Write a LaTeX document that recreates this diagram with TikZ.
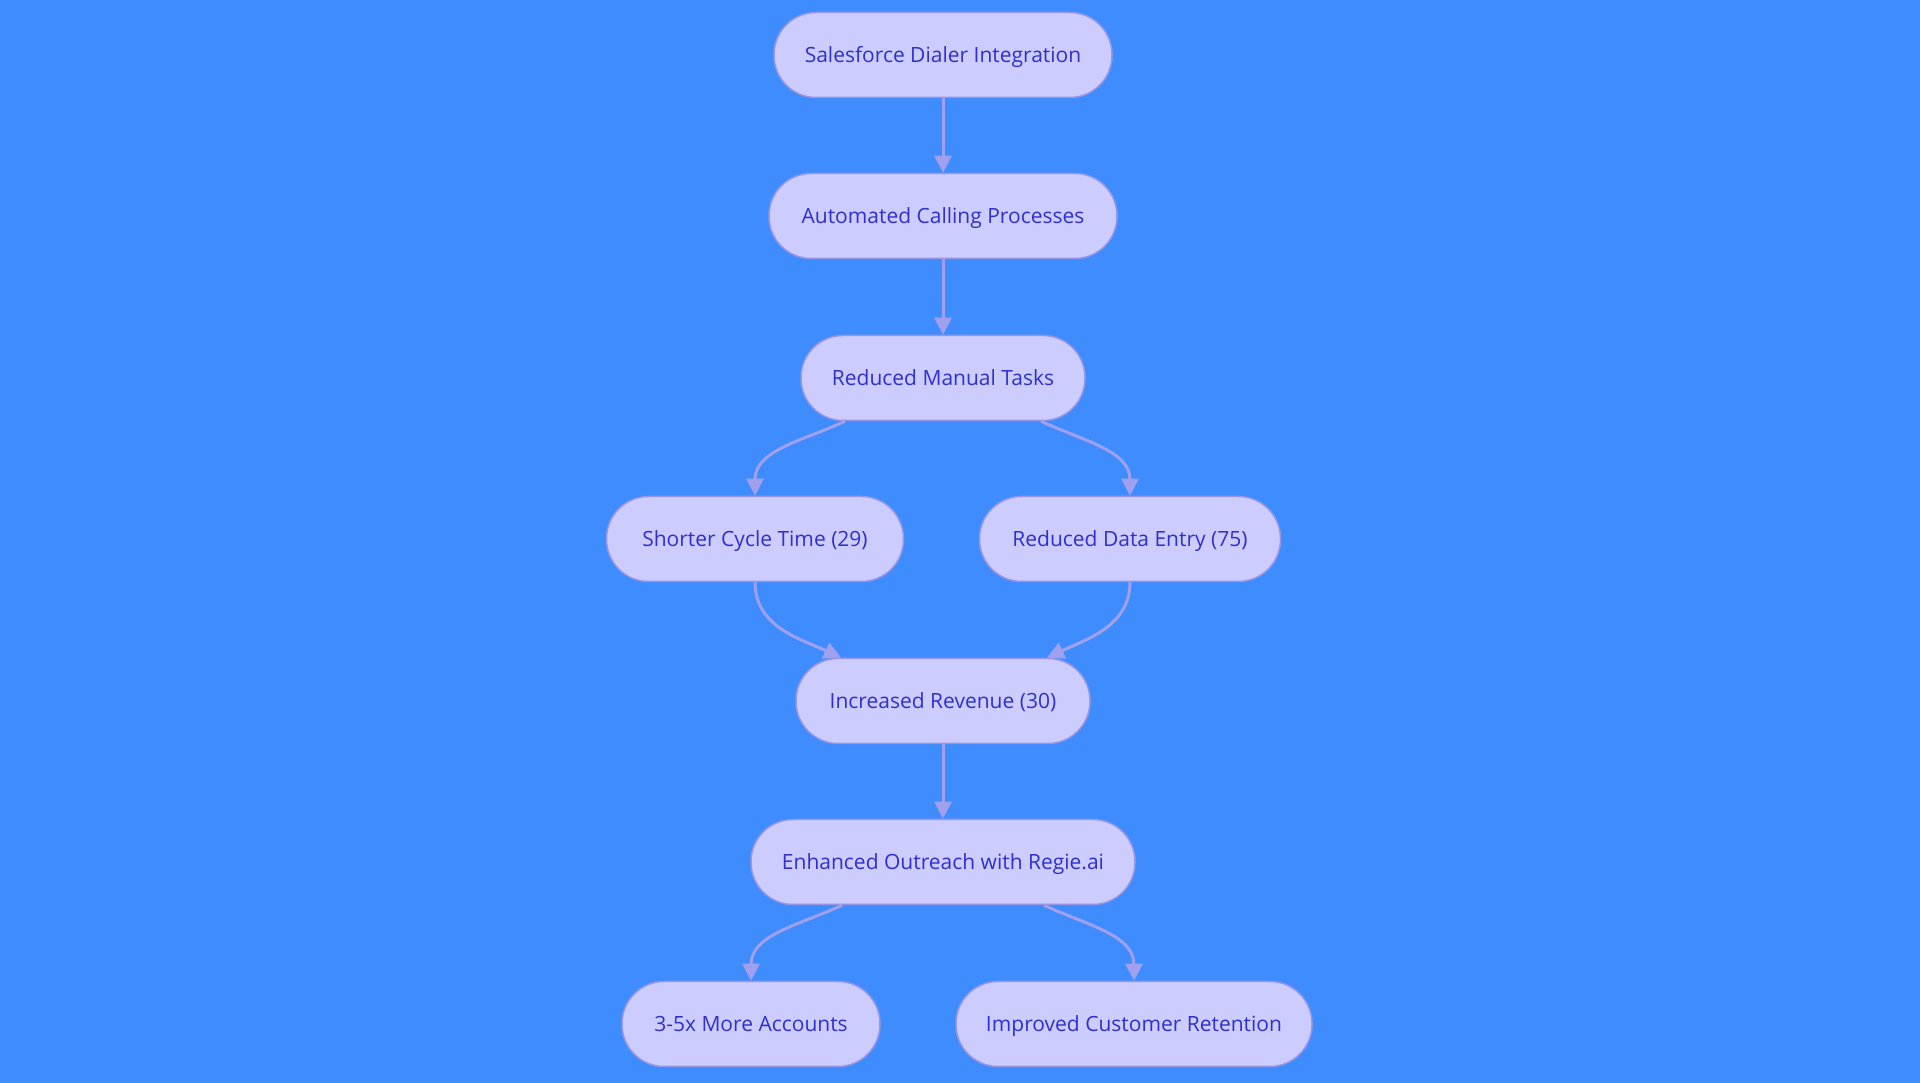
\documentclass[tikz,border=0pt]{standalone}
\usepackage{fontspec}
\setmainfont{Open Sans}
\usetikzlibrary{arrows.meta}
\tikzset{>={Triangle[length=17pt,width=17pt]}}
\definecolor{bgblue}{RGB}{63,140,255}
\definecolor{boxfill}{RGB}{204,204,255}
\definecolor{boxline}{RGB}{150,150,228}
\definecolor{edgecol}{RGB}{160,160,238}
\definecolor{textcol}{RGB}{48,48,204}

\begin{document}
\begin{tikzpicture}[x=1pt, y=1pt,
    pill/.style={draw=boxline, line width=1.5pt, fill=boxfill, text=textcol,
      rounded corners=42pt, minimum height=85pt, inner xsep=30pt,
      text height=19pt, text depth=3pt,
      font=\fontsize{21}{25}\selectfont},
    link/.style={->, draw=edgecol, line width=3pt}]
      % background
      \fill[bgblue] (0, 0) rectangle (1920, 1083);
      \useasboundingbox (0, 0) rectangle (1920, 1083);
      % nodes
      \node[pill, minimum width=338pt] (dialer) at (943, 1028) {Salesforce Dialer Integration};
      \node[pill, minimum width=348pt] (calling) at (943, 867) {Automated Calling Processes};
      \node[pill, minimum width=284pt] (manual) at (943, 705) {Reduced Manual Tasks};
      \node[pill, minimum width=297pt] (cycle) at (755, 544) {Shorter Cycle Time (29)};
      \node[pill, minimum width=301pt] (entry) at (1130, 544) {Reduced Data Entry (75)};
      \node[pill, minimum width=294pt] (revenue) at (943, 382) {Increased Revenue (30)};
      \node[pill, minimum width=384pt] (outreach) at (943, 221) {Enhanced Outreach with Regie.ai};
      \node[pill, minimum width=258pt] (accounts) at (751, 59) {3-5x More Accounts};
      \node[pill, minimum width=353pt] (retention) at (1134, 59) {Improved Customer Retention};
      % straight arrows
      \draw[link] (dialer) -- (calling);
      \draw[link] (calling) -- (manual);
      \draw[link] (revenue) -- (outreach);
      % curved arrows
      \draw[link] ([xshift=-98pt]manual.south) to[out=-155, in=90] (cycle.north);
      \draw[link] ([xshift=98pt]manual.south) to[out=-25, in=90] (entry.north);
      \draw[link] (cycle.south) to[out=-90, in=155] ([xshift=-102pt]revenue.north);
      \draw[link] (entry.south) to[out=-90, in=25] ([xshift=104pt]revenue.north);
      \draw[link] ([xshift=-101pt]outreach.south) to[out=-155, in=90] (accounts.north);
      \draw[link] ([xshift=101pt]outreach.south) to[out=-25, in=90] (retention.north);
    \end{tikzpicture}
\end{document}
